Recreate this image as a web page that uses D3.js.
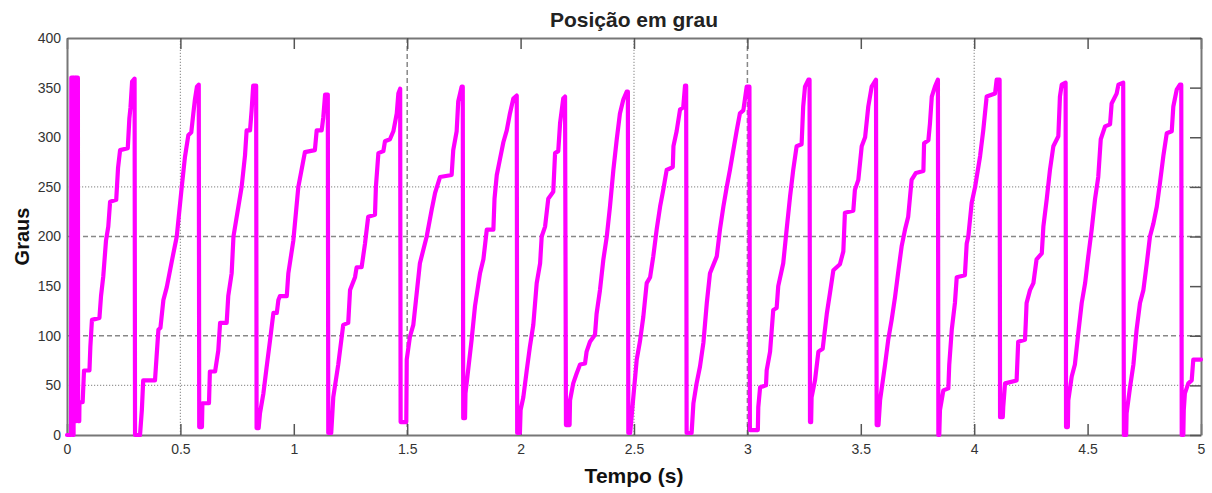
<!DOCTYPE html>
<html lang="pt">
<head>
<meta charset="UTF-8">
<title>Posição em grau</title>
<script src="https://cdnjs.cloudflare.com/ajax/libs/d3/7.8.5/d3.min.js"></script>
<style>
  body { margin: 0; background: #fff; font-family: "Liberation Sans", Arial, sans-serif; }
  .tick text { fill: #333; font-size: 14px; }
</style>
</head>
<body>
<div id="chart"></div>
<script>
// tempo (s), graus, cycle by cycle
const posicao = [
  [0,0],[0.018,0],[0.019,360],[0.024,360],[0.025,0],[0.029,0],[0.030,360],[0.036,360],[0.037,14],[0.041,14],[0.042,360],[0.048,360],[0.049,14],[0.054,14],[0.055,33],[0.069,33],
  [0.075,65],[0.099,65],[0.103,89],[0.110,116],[0.143,118],[0.150,140],[0.160,160],[0.172,196],[0.182,210],[0.190,235],[0.217,237],[0.225,269],[0.234,287],[0.268,289],[0.275,319],[0.280,330],[0.287,356],[0.298,359],
  [0.300,0],[0.322,0],[0.330,25],[0.336,55],[0.388,55],[0.395,79],[0.403,106],[0.412,108],[0.425,136],[0.440,149],[0.462,175],[0.484,200],[0.506,250],[0.520,280],[0.535,302],[0.548,305],[0.557,324],[0.564,338],[0.573,351],[0.581,353],
  [0.583,8],[0.595,8],[0.597,32],[0.626,32],[0.630,64],[0.653,64],[0.667,85],[0.675,113],[0.704,113],[0.711,140],[0.726,163],[0.734,200],[0.770,250],[0.785,282],[0.792,307],[0.807,307],[0.814,327],[0.821,352],[0.834,352],
  [0.836,7],[0.845,7],[0.851,22],[0.866,42],[0.880,68],[0.895,95],[0.910,123],[0.925,123],[0.932,136],[0.939,140],[0.969,140],[0.976,163],[0.998,196],[1.020,250],[1.049,285],[1.093,287],[1.101,307],[1.123,307],[1.130,320],[1.138,343],[1.150,343],
  [1.152,2],[1.165,2],[1.174,38],[1.196,71],[1.218,111],[1.240,113],[1.248,146],[1.270,159],[1.277,169],[1.299,169],[1.314,193],[1.328,220],[1.358,222],[1.362,250],[1.373,284],[1.395,286],[1.402,296],[1.424,298],[1.439,306],[1.454,324],[1.461,344],[1.469,349],
  [1.471,13],[1.496,13],[1.498,76],[1.512,99],[1.527,111],[1.556,173],[1.586,200],[1.608,227],[1.623,244],[1.645,260],[1.696,262],[1.703,287],[1.718,306],[1.725,336],[1.740,351],[1.745,351],
  [1.747,17],[1.755,17],[1.757,42],[1.762,52],[1.784,96],[1.799,130],[1.821,163],[1.836,177],[1.851,207],[1.880,207],[1.885,238],[1.895,262],[1.909,278],[1.924,295],[1.939,307],[1.953,324],[1.968,339],[1.983,342],
  [1.985,2],[1.997,2],[2.000,25],[2.012,38],[2.027,65],[2.041,89],[2.056,111],[2.071,153],[2.086,173],[2.093,200],[2.108,210],[2.122,238],[2.144,245],[2.152,284],[2.166,286],[2.174,314],[2.188,339],[2.196,341],
  [2.200,10],[2.216,10],[2.218,35],[2.232,52],[2.247,62],[2.262,71],[2.284,72],[2.291,84],[2.306,94],[2.328,101],[2.335,122],[2.350,146],[2.365,177],[2.380,200],[2.394,230],[2.409,267],[2.424,298],[2.438,324],[2.453,338],[2.468,346],[2.473,346],
  [2.475,2],[2.483,2],[2.497,38],[2.512,76],[2.526,94],[2.541,119],[2.556,153],[2.571,159],[2.585,180],[2.600,207],[2.615,230],[2.629,247],[2.644,267],[2.671,270],[2.674,291],[2.688,306],[2.703,328],[2.717,330],[2.725,352],[2.730,352],
  [2.732,2],[2.754,2],[2.762,32],[2.776,52],[2.791,69],[2.806,93],[2.821,133],[2.835,163],[2.865,180],[2.879,207],[2.894,230],[2.909,250],[2.923,267],[2.938,287],[2.953,307],[2.967,324],[2.982,327],[2.997,351],[3.009,351],
  [3.011,5],[3.046,5],[3.048,28],[3.056,48],[3.082,50],[3.085,65],[3.100,84],[3.114,126],[3.129,128],[3.136,150],[3.158,173],[3.173,207],[3.188,240],[3.202,267],[3.217,291],[3.239,293],[3.246,331],[3.254,351],[3.269,358],[3.274,358],
  [3.276,13],[3.281,13],[3.283,38],[3.298,55],[3.313,84],[3.332,87],[3.350,122],[3.364,143],[3.379,166],[3.408,172],[3.423,185],[3.430,224],[3.467,226],[3.474,247],[3.489,257],[3.504,291],[3.519,300],[3.533,331],[3.548,351],[3.567,358],
  [3.570,10],[3.578,10],[3.585,35],[3.607,71],[3.621,96],[3.636,116],[3.651,139],[3.666,166],[3.680,190],[3.695,207],[3.709,220],[3.724,257],[3.743,264],[3.776,266],[3.779,294],[3.798,297],[3.805,314],[3.813,341],[3.827,351],[3.840,358],
  [3.842,0],[3.846,0],[3.849,25],[3.864,45],[3.886,47],[3.890,71],[3.901,106],[3.915,133],[3.923,159],[3.959,161],[3.967,193],[3.974,200],[3.989,234],[4.004,250],[4.026,281],[4.040,307],[4.055,341],[4.092,344],[4.099,358],[4.112,358],
  [4.114,18],[4.126,18],[4.128,28],[4.136,52],[4.187,55],[4.194,94],[4.224,96],[4.227,111],[4.231,133],[4.246,146],[4.261,153],[4.275,177],[4.298,183],[4.305,210],[4.320,238],[4.334,267],[4.349,291],[4.371,301],[4.378,341],[4.386,353],[4.403,355],
  [4.405,8],[4.413,8],[4.415,35],[4.430,59],[4.444,71],[4.459,103],[4.474,133],[4.489,153],[4.503,180],[4.518,207],[4.533,238],[4.547,260],[4.558,298],[4.577,311],[4.599,313],[4.606,334],[4.628,344],[4.636,353],[4.657,355],
  [4.660,0],[4.670,0],[4.672,22],[4.687,48],[4.702,71],[4.716,106],[4.731,133],[4.746,146],[4.761,173],[4.775,200],[4.790,213],[4.805,230],[4.819,254],[4.834,281],[4.849,304],[4.871,306],[4.878,331],[4.893,348],[4.907,353],[4.913,353],
  [4.915,0],[4.922,0],[4.924,25],[4.929,42],[4.944,52],[4.959,55],[4.966,76],[5.000,76]
];

const xTicks = [0, 0.5, 1, 1.5, 2, 2.5, 3, 3.5, 4, 4.5, 5];
const yTicks = [0, 50, 100, 150, 200, 250, 300, 350, 400];
// only some grid lines appear in the picture
const gridXDotted = [0.5, 2.5, 4];
const gridXDashed = [1.5, 3];
const gridYDotted = [50, 250];
const gridYDashed = [100, 200];

const width = 1212, height = 493;
const margin = {top: 38, right: 11, bottom: 58, left: 67};

const svg = d3.select("#chart").append("svg")
  .attr("width", width).attr("height", height);

const x = d3.scaleLinear().domain([0, 5]).range([margin.left, width - margin.right]);
const y = d3.scaleLinear().domain([0, 400]).range([height - margin.bottom, margin.top]);

// grid
const grid = svg.append("g").attr("fill", "none");
grid.selectAll(".gxd").data(gridXDotted).join("line")
  .attr("x1", d => x(d)).attr("x2", d => x(d)).attr("y1", y(0)).attr("y2", y(400))
  .attr("stroke", "#999").attr("stroke-width", 1.2).attr("stroke-dasharray", "1.2,1.8");
grid.selectAll(".gxs").data(gridXDashed).join("line")
  .attr("x1", d => x(d)).attr("x2", d => x(d)).attr("y1", y(0)).attr("y2", y(400))
  .attr("stroke", "#888").attr("stroke-width", 1.5).attr("stroke-dasharray", "5,3");
grid.selectAll(".gyd").data(gridYDotted).join("line")
  .attr("y1", d => y(d)).attr("y2", d => y(d)).attr("x1", x(0)).attr("x2", x(5))
  .attr("stroke", "#999").attr("stroke-width", 1.2).attr("stroke-dasharray", "1.2,1.8");
grid.selectAll(".gys").data(gridYDashed).join("line")
  .attr("y1", d => y(d)).attr("y2", d => y(d)).attr("x1", x(0)).attr("x2", x(5))
  .attr("stroke", "#888").attr("stroke-width", 1.5).attr("stroke-dasharray", "5,3");

// axes, ticks pointing inward
const fmt = d => String(d);
const axB = svg.append("g").attr("transform", `translate(0,${y(0)})`)
  .call(d3.axisBottom(x).tickValues(xTicks).tickFormat(fmt).tickSizeInner(-11).tickSizeOuter(0).tickPadding(9));
const axT = svg.append("g").attr("transform", `translate(0,${y(400)})`)
  .call(d3.axisTop(x).tickValues(xTicks).tickFormat("").tickSizeInner(-11).tickSizeOuter(0));
const axL = svg.append("g").attr("transform", `translate(${x(0)},0)`)
  .call(d3.axisLeft(y).tickValues(yTicks).tickFormat(fmt).tickSizeInner(0).tickSizeOuter(0).tickPadding(6));
const axR = svg.append("g").attr("transform", `translate(${x(5)},0)`)
  .call(d3.axisRight(y).tickValues(yTicks).tickFormat("").tickSizeInner(-11).tickSizeOuter(0));

[axB, axT, axL, axR].forEach(a => {
  a.select(".domain").attr("stroke", "#777").attr("stroke-width", 2);
  a.selectAll(".tick line").attr("stroke", "#555").attr("stroke-width", 1.5);
  a.selectAll(".tick text").attr("font-family", "Liberation Sans, Arial, sans-serif").attr("font-size", 14);
});

// series
const line = d3.line().x(d => x(d[0])).y(d => y(d[1]));
svg.append("path").datum(posicao)
  .attr("d", line)
  .attr("fill", "none")
  .attr("stroke", "#ff00ff")
  .attr("stroke-width", 4.2)
  .attr("stroke-linejoin", "round")
  .attr("stroke-linecap", "round");

// labels
svg.append("text").attr("x", (x(0) + x(5)) / 2).attr("y", 27)
  .attr("text-anchor", "middle").attr("font-weight", "bold").attr("font-size", 21).attr("fill", "#222")
  .text("Posição em grau");
svg.append("text").attr("x", (x(0) + x(5)) / 2).attr("y", 483)
  .attr("text-anchor", "middle").attr("font-weight", "bold").attr("font-size", 21).attr("fill", "#111")
  .text("Tempo (s)");
svg.append("text").attr("transform", `translate(29,${(y(0) + y(400)) / 2}) rotate(-90)`)
  .attr("text-anchor", "middle").attr("font-weight", "bold").attr("font-size", 20).attr("fill", "#111")
  .text("Graus");
</script>
</body>
</html>
